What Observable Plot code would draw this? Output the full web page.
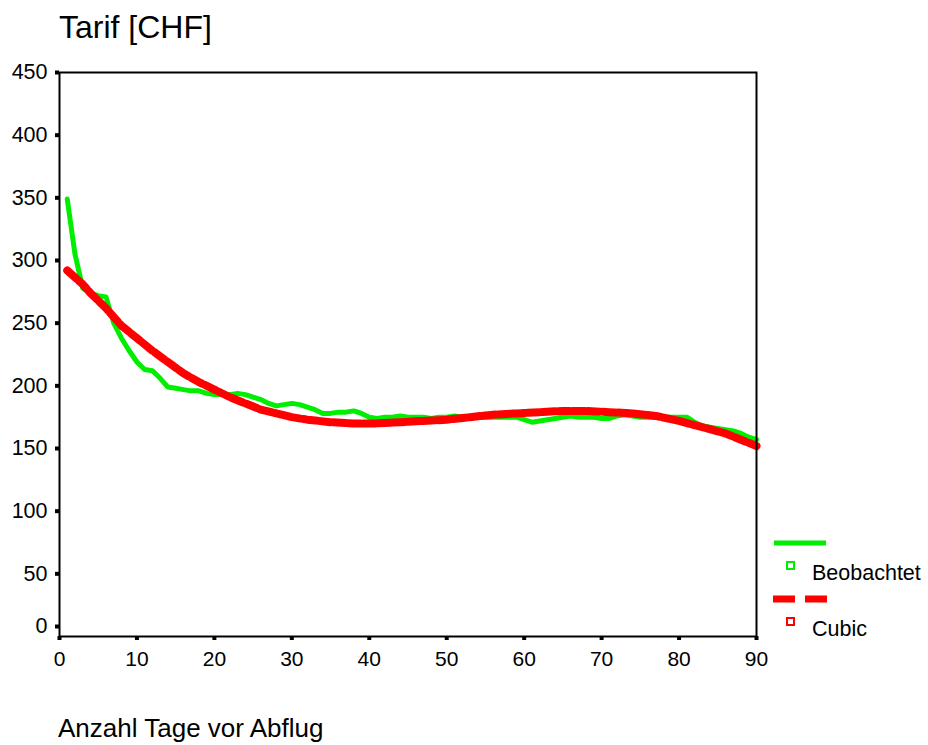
<!DOCTYPE html>
<html><head><meta charset="utf-8">
<script src="https://cdn.jsdelivr.net/npm/d3@7"></script>
<script src="https://cdn.jsdelivr.net/npm/@observablehq/plot@0.6"></script>
<style>
body{margin:0;background:#fff;font-family:"Liberation Sans",Arial,sans-serif;}
#wrap{position:relative;width:928px;height:745px;}
#wrap svg{position:absolute;left:0;top:0;}
</style></head><body>
<div id="wrap"></div>
<script>
const title = "Tarif [CHF]";
const xLabel = "Anzahl Tage vor Abflug";
const seriesNames = ["Beobachtet", "Cubic"];
const xTicks = [0,10,20,30,40,50,60,70,80,90];
const yTicks = [0,50,100,150,200,250,300,350,400,450];

const obsDays = d3.range(1, 91);
const obsValues = [349,305,278,274,272,271,250,238,228,219,213,212,206,199,198,197,196,196,194,193,
  193,193,194,193,191,189,186,184,185,186,185,183,181,178,178,179,179,180,178,175,
  174,175,175,176,175,175,175,174,175,175,176,175,175,175,175,175,175,175,175,173,
  171,172,173,174,175,176,175,175,175,174,174,176,177,176,175,175,175,175,175,175,
  175,171,168,167,166,165,164,162,159,157];

const cubicDays = [1,3,4,6,8,10,12,14,16,18,20,22,24,26,28,30,32,35,38,41,44,47,50,53,56,59,62,65,68,71,74,77,80,83,86,88,90];
const cubicValues = [292,281,274,262,248,238,228,219,210,203,197,191,186,181,178,175,173,171,170,170,171,172,173,175,177,178,179,180,180,179,178,176,172,167,162,157,152];

const obs = obsDays.map((d,i)=>({x:d, y:obsValues[i]}));
const cub = cubicDays.map((d,i)=>({x:d, y:cubicValues[i]}));

const FONT = '"Liberation Sans", Arial, sans-serif';
const chart = Plot.plot({
  width: 928, height: 745,
  marginLeft: 59, marginRight: 172, marginTop: 72, marginBottom: 109,
  style: {fontFamily: FONT, fontSize: "21px", color: "#000", background: "#fff"},
  x: {domain: [0, 90]},
  y: {domain: [0, 450]},
  marks: [
    Plot.line(obs, {x:"x", y:"y", stroke:"#00ee00", strokeWidth:5}),
    Plot.line(cub, {x:"x", y:"y", stroke:"#ff0000", strokeWidth:8, strokeDasharray:"12,3"}),
    Plot.frame({stroke:"#000", strokeWidth:2}),
    Plot.axisX({ticks: xTicks, tickSize: 4, strokeWidth: 4, tickPadding: 11, label: null, fontSize: 21, tickFormat: d=>String(d)}),
    Plot.axisY({ticks: yTicks.filter(v=>v>0), tickSize: 4, strokeWidth: 4, tickPadding: 8, label: null, fontSize: 21.5, tickFormat: d=>String(d)}),
    Plot.axisY({ticks: [0], tickSize: 4, strokeWidth: 4, tickPadding: 8, label: null, fontSize: 21.5, dy: -10, tickFormat: d=>String(d)})
  ]
});
const wrap = document.getElementById("wrap");
wrap.appendChild(chart);

// title, axis label and legend
const ov = document.createElementNS("http://www.w3.org/2000/svg","svg");
ov.setAttribute("width", 928); ov.setAttribute("height", 745);
ov.style.position = "absolute"; ov.style.left = "0"; ov.style.top = "0";
ov.setAttribute("font-family", FONT);
ov.innerHTML = `
<text x="59" y="38" font-size="32">${title}</text>
<text x="58" y="737" font-size="26">${xLabel}</text>
<line x1="774" x2="826" y1="543" y2="543" stroke="#00ee00" stroke-width="5"/>
<rect x="787" y="562" width="7" height="7" fill="none" stroke="#00ee00" stroke-width="2"/>
<line x1="773" x2="828" y1="599" y2="599" stroke="#ff0000" stroke-width="7" stroke-dasharray="22,10"/>
<rect x="787" y="618" width="7" height="7" fill="none" stroke="#ff0000" stroke-width="2"/>
<text x="812" y="580" font-size="21.5">${seriesNames[0]}</text>
<text x="812" y="636" font-size="21.5">${seriesNames[1]}</text>`;
wrap.appendChild(ov);
</script>
</body></html>
